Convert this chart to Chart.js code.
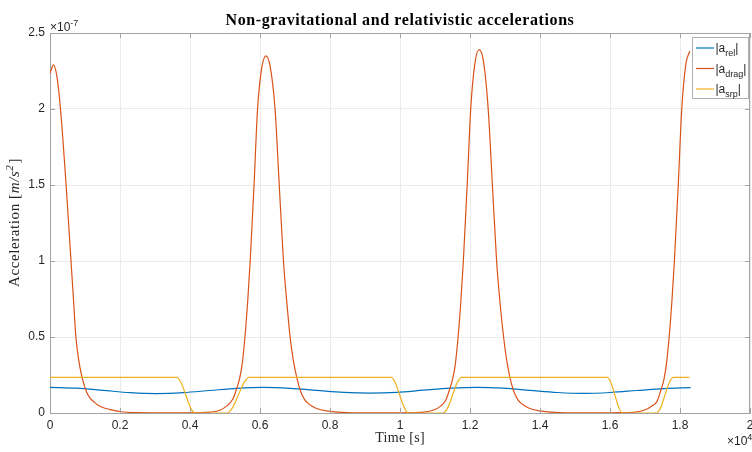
<!DOCTYPE html>
<html>
<head>
<meta charset="utf-8">
<title>Non-gravitational and relativistic accelerations</title>
<script src="https://cdn.jsdelivr.net/npm/chart.js@4.4.1/dist/chart.umd.min.js"></script>
<style>
  html, body { margin: 0; padding: 0; background: #fff; }
  #wrap { width: 752px; height: 452px; }
</style>
</head>
<body>
<div id="wrap"><canvas id="accelChart" width="752" height="452"></canvas></div>
<script>
// time in units of 1e4 s, accelerations in units of 1e-7 m/s^2
const relTime = [0, 0.076, 0.152, 0.229, 0.305, 0.381, 0.457, 0.534, 0.61, 0.686, 0.762, 0.839, 0.915,
  0.991, 1.067, 1.144, 1.22, 1.296, 1.372, 1.449, 1.525, 1.601, 1.677, 1.754, 1.83];
const relAccel = [0.169, 0.163, 0.149, 0.134, 0.128, 0.134, 0.148, 0.162, 0.168, 0.162, 0.149, 0.136, 0.131,
  0.136, 0.150, 0.163, 0.169, 0.163, 0.149, 0.135, 0.129, 0.135, 0.148, 0.161, 0.167];

const dragTime = [
  0, 0.010, 0.020, 0.030, 0.046, 0.060, 0.067, 0.074, 0.082, 0.090, 0.098, 0.105, 0.114, 0.127, 0.140,
  0.155, 0.170, 0.185, 0.200, 0.220, 0.250, 0.300, 0.350,
  0.420, 0.460, 0.487, 0.507, 0.522, 0.532, 0.542, 0.549, 0.557, 0.565, 0.572, 0.583, 0.593, 0.605, 0.617,
  0.629, 0.643, 0.655, 0.667, 0.677, 0.686, 0.695, 0.705, 0.715, 0.727, 0.739, 0.757, 0.777, 0.807, 0.847,
  0.897, 0.960,
  1.029, 1.069, 1.096, 1.116, 1.131, 1.141, 1.151, 1.158, 1.166, 1.174, 1.181, 1.192, 1.202, 1.214, 1.226,
  1.238, 1.252, 1.264, 1.276, 1.286, 1.295, 1.304, 1.314, 1.324, 1.336, 1.348, 1.366, 1.386, 1.416, 1.456,
  1.506, 1.570,
  1.630, 1.672, 1.699, 1.719, 1.734, 1.744, 1.754, 1.761, 1.769, 1.777, 1.784, 1.795, 1.805, 1.817, 1.828
];
const dragAccel = [
  2.235, 2.29, 2.21, 2.00, 1.50, 1.00, 0.75, 0.50, 0.35, 0.25, 0.18, 0.135, 0.10, 0.07, 0.047,
  0.033, 0.024, 0.016, 0.010, 0.005, 0.002, 0.001, 0.0005,
  0.002, 0.006, 0.02, 0.05, 0.09, 0.15, 0.23, 0.32, 0.50, 0.74, 1.00, 1.50, 2.00, 2.27, 2.35,
  2.28, 2.00, 1.50, 1.00, 0.72, 0.50, 0.35, 0.235, 0.15, 0.09, 0.06, 0.035, 0.02, 0.009, 0.003,
  0.001, 0.0005,
  0.002, 0.006, 0.02, 0.045, 0.085, 0.15, 0.23, 0.32, 0.50, 0.74, 1.00, 1.50, 2.00, 2.30, 2.39,
  2.32, 2.00, 1.50, 1.00, 0.72, 0.52, 0.36, 0.235, 0.15, 0.09, 0.06, 0.035, 0.02, 0.009, 0.003,
  0.001, 0.0005,
  0.002, 0.006, 0.02, 0.045, 0.075, 0.14, 0.22, 0.32, 0.50, 0.74, 1.00, 1.50, 2.00, 2.30, 2.38
];

const srpTime = [0, 0.362, 0.375, 0.388, 0.401, 0.414, 0.507, 0.522, 0.538, 0.554, 0.569,
  0.974, 0.987, 0.999, 1.012, 1.024, 1.124, 1.137, 1.150, 1.163, 1.176,
  1.592, 1.603, 1.614, 1.625, 1.636, 1.733, 1.745, 1.757, 1.769, 1.781, 1.827];
const srpAccel = [0.235, 0.235, 0.198, 0.118, 0.037, 0, 0, 0.037, 0.118, 0.198, 0.235,
  0.235, 0.198, 0.118, 0.037, 0, 0, 0.037, 0.118, 0.198, 0.235,
  0.235, 0.198, 0.118, 0.037, 0, 0, 0.037, 0.118, 0.198, 0.235, 0.235];

const xTickValues = [0, 0.2, 0.4, 0.6, 0.8, 1, 1.2, 1.4, 1.6, 1.8, 2];
const yTickValues = [0, 0.5, 1, 1.5, 2, 2.5];

// legend entries: |a_sub|
const seriesSubs = ['rel', 'drag', 'srp'];
const seriesColors = ['#0072BD', '#D95319', '#EDB120'];

const titleText = 'Non-gravitational and relativistic accelerations';
const xLabel = 'Time [s]';

const axisColor = '#a2a2a2';
const textColor = '#262626';
const sansFont = '"Liberation Sans", Arial, sans-serif';
const serifFont = '"Liberation Serif", "Times New Roman", serif';

function toPoints(ts, vs) {
  return ts.map((t, i) => ({ x: t, y: vs[i] }));
}

function fmtTick(v) {
  return String(parseFloat(Number(v).toFixed(2)));
}

// box, inward ticks, titles, exponents and the legend, drawn the MATLAB way
const framePlugin = {
  id: 'frame',
  afterDraw(chart) {
    const { ctx, chartArea: a, scales: { x, y } } = chart;
    ctx.save();

    ctx.strokeStyle = axisColor;
    ctx.lineWidth = 1;
    ctx.beginPath();
    ctx.moveTo(a.left, a.top + 0.5);
    ctx.lineTo(a.right, a.top + 0.5);
    ctx.moveTo(a.right - 0.5, a.top);
    ctx.lineTo(a.right - 0.5, a.bottom);
    xTickValues.forEach(v => {
      const px = Math.round(x.getPixelForValue(v)) + 0.5;
      ctx.moveTo(px, a.bottom);
      ctx.lineTo(px, a.bottom - 5);
      ctx.moveTo(px, a.top);
      ctx.lineTo(px, a.top + 5);
    });
    yTickValues.forEach(v => {
      const py = Math.round(y.getPixelForValue(v)) + 0.5;
      ctx.moveTo(a.left, py);
      ctx.lineTo(a.left + 5, py);
      ctx.moveTo(a.right, py);
      ctx.lineTo(a.right - 5, py);
    });
    ctx.stroke();

    const cx = (a.left + a.right) / 2;

    // title
    ctx.fillStyle = '#000';
    ctx.font = 'bold 16px ' + serifFont;
    ctx.letterSpacing = '0.6px';
    ctx.textAlign = 'center';
    ctx.textBaseline = 'alphabetic';
    ctx.fillText(titleText, cx, 25);

    // x label
    ctx.fillStyle = textColor;
    ctx.font = '14px ' + serifFont;
    ctx.letterSpacing = '0.3px';
    ctx.fillText(xLabel, cx, 442);

    // y label: Acceleration [m/s^2]
    ctx.save();
    ctx.translate(19, (a.top + a.bottom) / 2);
    ctx.rotate(-Math.PI / 2);
    ctx.letterSpacing = '0.6px';
    const parts = [
      { t: 'Acceleration [', f: '15px ' + serifFont, dy: 0 },
      { t: 'm/s', f: 'italic 15px ' + serifFont, dy: 0 },
      { t: '2', f: 'italic 11px ' + serifFont, dy: -6 },
      { t: ']', f: '15px ' + serifFont, dy: 0 }
    ];
    let total = 0;
    parts.forEach(p => { ctx.font = p.f; p.w = ctx.measureText(p.t).width; total += p.w; });
    let px = -total / 2;
    ctx.textAlign = 'left';
    parts.forEach(p => {
      ctx.font = p.f;
      ctx.fillText(p.t, px, p.dy);
      px += p.w + (p.t === '2' ? 1 : 0);
    });
    ctx.restore();
    ctx.letterSpacing = '0px';

    // exponents
    ctx.textAlign = 'left';
    ctx.fillStyle = textColor;
    ctx.font = '12px ' + sansFont;
    ctx.fillText('\u00d710', a.left, 31);
    let w = ctx.measureText('\u00d710').width;
    ctx.font = '9px ' + sansFont;
    ctx.fillText('-7', a.left + w, 26);

    ctx.font = '12px ' + sansFont;
    ctx.fillText('\u00d710', 727, 445);
    w = ctx.measureText('\u00d710').width;
    ctx.font = '9px ' + sansFont;
    ctx.fillText('4', 727 + w, 440);

    // legend
    const lx = 692.5, ly = 37.5, lw = 56, lh = 61;
    ctx.fillStyle = '#fff';
    ctx.fillRect(lx, ly, lw, lh);
    ctx.strokeStyle = '#b0b0b0';
    ctx.lineWidth = 1;
    ctx.strokeRect(lx, ly, lw, lh);
    seriesSubs.forEach((sub, i) => {
      const rowY = 48 + i * 20.5;
      ctx.strokeStyle = seriesColors[i];
      ctx.lineWidth = 1.2;
      ctx.beginPath();
      ctx.moveTo(696, rowY);
      ctx.lineTo(714, rowY);
      ctx.stroke();
      ctx.fillStyle = textColor;
      ctx.font = '12px ' + sansFont;
      let tx = 715.5;
      ctx.fillText('|a', tx, rowY + 4);
      tx += ctx.measureText('|a').width;
      ctx.font = '9px ' + sansFont;
      ctx.fillText(sub, tx, rowY + 8);
      tx += ctx.measureText(sub).width;
      ctx.font = '12px ' + sansFont;
      ctx.fillText('|', tx, rowY + 4);
    });

    ctx.restore();
  }
};

const lineStyle = {
  borderWidth: 1.2,
  pointRadius: 0,
  fill: false,
  cubicInterpolationMode: 'monotone'
};

new Chart(document.getElementById('accelChart'), {
  type: 'line',
  data: {
    datasets: [
      { ...lineStyle, label: '|a_rel|', data: toPoints(relTime, relAccel), borderColor: seriesColors[0], order: 2 },
      { ...lineStyle, label: '|a_drag|', data: toPoints(dragTime, dragAccel), borderColor: seriesColors[1], order: 1 },
      { ...lineStyle, label: '|a_srp|', data: toPoints(srpTime, srpAccel), borderColor: seriesColors[2], order: 0 }
    ]
  },
  options: {
    responsive: false,
    animation: false,
    layout: { padding: { top: 33, right: 2, left: 0, bottom: 0 } },
    plugins: {
      legend: { display: false },
      title: { display: false },
      tooltip: { enabled: false }
    },
    scales: {
      x: {
        type: 'linear',
        min: 0,
        max: 2,
        afterBuildTicks: s => { s.ticks = xTickValues.map(v => ({ value: v })); },
        afterFit: s => { s.height = 39; s.paddingLeft = 0; s.paddingRight = 0; },
        grid: { color: '#ebebeb', drawTicks: false },
        border: { color: axisColor },
        ticks: {
          autoSkip: false,
          maxRotation: 0,
          padding: 5,
          color: textColor,
          font: { family: sansFont, size: 12 },
          callback: fmtTick
        }
      },
      y: {
        type: 'linear',
        min: 0,
        max: 2.5,
        afterBuildTicks: s => { s.ticks = yTickValues.map(v => ({ value: v })); },
        afterFit: s => { s.width = 50; s.paddingTop = 0; s.paddingBottom = 0; },
        grid: { color: '#ebebeb', drawTicks: false },
        border: { color: axisColor },
        ticks: {
          padding: 5,
          color: textColor,
          font: { family: sansFont, size: 12 },
          callback: fmtTick
        }
      }
    }
  },
  plugins: [framePlugin]
});
</script>
</body>
</html>
